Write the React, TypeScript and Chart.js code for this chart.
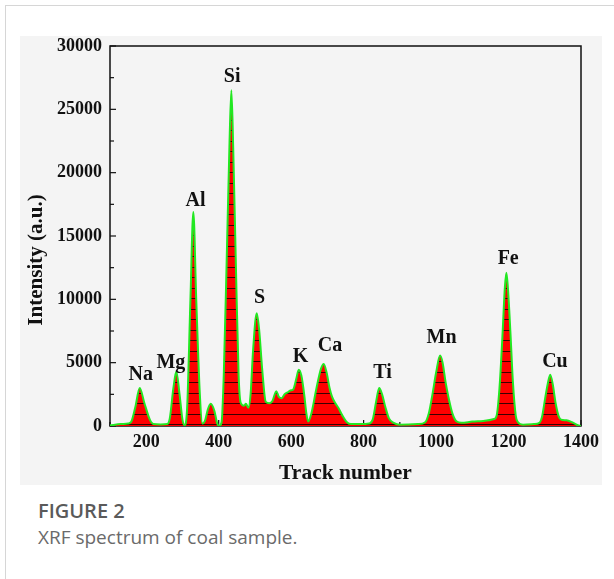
import React, { useEffect, useRef } from 'react';
import { Chart, registerables } from 'chart.js';

Chart.register(...registerables);

// Spectrum (track number -> intensity)
const trackNumbers = [
  100, 130, 150, 158, 170, 182, 195, 210, 220, 240, 258, 265, 275, 283, 292, 300, 306,
  313, 322, 330, 338, 348, 355, 362, 370, 378, 388, 396, 401, 408, 414, 422, 430, 435,
  440, 448, 455, 461, 470, 475, 482, 488, 495, 505, 512, 520, 530, 540, 548, 559, 566,
  574, 582, 590, 598, 606, 614, 621, 628, 636, 642, 647, 655, 670, 682, 690, 698, 706,
  713, 722, 731, 742, 754, 765, 790, 815, 825, 835, 843, 851, 860, 870, 883, 900, 950,
  970, 980, 990, 1000, 1011, 1018, 1026, 1034, 1045, 1057, 1070, 1100, 1130, 1160, 1167,
  1175, 1183, 1190, 1194, 1198, 1205, 1212, 1220, 1226, 1240, 1270, 1285, 1293, 1300,
  1308, 1315, 1322, 1330, 1338, 1345, 1360, 1375, 1388, 1400,
];
const intensities = [
  50, 150, 200, 300, 1500, 3000, 1800, 500, 150, 120, 150, 600, 3000, 4300, 2500, 500, 50,
  1500, 10000, 16900, 10000, 2500, 200, 400, 1300, 1750, 1200, 200, 0, 300, 4000, 13000, 22500, 26500,
  22000, 12000, 4000, 1800, 1600, 1750, 1450, 2500, 6000, 8900, 7500, 4500, 1900, 1800, 1950, 2750, 2300,
  2200, 2500, 2650, 2800, 2900, 3700, 4450, 4000, 2500, 1000, 350, 900, 3000, 4500, 4900, 4200, 3000,
  2300, 1800, 1400, 800, 300, 150, 150, 200, 500, 2000, 3000, 2500, 1500, 600, 250, 100, 150,
  300, 1000, 2500, 4200, 5560, 5000, 3500, 2300, 1000, 350, 250, 350, 400, 550, 800,
  3000, 7000, 11000, 12100, 11000, 7500, 3500, 800, 300, 100, 150, 250, 800, 2000,
  3300, 4050, 3300, 1800, 800, 500, 450, 300, 100, 0,
];

// Element annotations
const elementNames = ['Na', 'Mg', 'Al', 'Si', 'S', 'K', 'Ca', 'Ti', 'Mn', 'Fe', 'Cu'];
const elementTracks = [185, 268, 336, 437, 513, 626, 707, 852, 1015, 1199, 1328];
const elementLabelLevels = [4050, 5020, 17800, 27600, 10080, 5450, 6290, 4230, 6960, 13230, 5100];

const xTickValues = [200, 400, 600, 800, 1000, 1200, 1400];
const yTickValues = [0, 5000, 10000, 15000, 20000, 25000, 30000];

const yTitle = 'Intensity (a.u.)';
const xTitle = 'Track number';

const SERIF = "'Liberation Serif', 'Times New Roman', serif";

export default function App() {
  const ref = useRef<HTMLCanvasElement>(null);

  useEffect(() => {
    document.body.style.margin = '0';
    const canvas = ref.current!;
    const pc = document.createElement('canvas');
    pc.width = 4;
    pc.height = 21;
    const g = pc.getContext('2d')!;
    g.fillStyle = '#ff0000';
    g.fillRect(0, 0, 4, 21);
    g.fillStyle = '#3a0000';
    g.fillRect(0, 0, 4, 1);
    g.fillRect(0, 10, 4, 1);
    const pattern = canvas.getContext('2d')!.createPattern(pc, 'repeat')!;

    const framePlugin = {
      id: 'frameTicks',
      beforeDatasetsDraw(chart: any) {
        const { ctx, chartArea: a, scales } = chart;
        ctx.save();
        ctx.strokeStyle = '#111';
        ctx.lineWidth = 1.5;
        ctx.strokeRect(a.left, a.top, a.right - a.left, a.bottom - a.top);
        ctx.lineWidth = 1.2;
        for (let v = 0; v <= 30000; v += 2500) {
          const y = scales.y.getPixelForValue(v);
          const len = v % 5000 === 0 ? 6 : 4;
          ctx.beginPath();
          ctx.moveTo(a.left, y);
          ctx.lineTo(a.left + len, y);
          ctx.stroke();
        }
        for (let v = 100; v <= 1400; v += 100) {
          const x = scales.x.getPixelForValue(v);
          const len = v % 200 === 0 ? 6 : 4;
          ctx.beginPath();
          ctx.moveTo(x, a.bottom);
          ctx.lineTo(x, a.bottom - len);
          ctx.stroke();
        }
        ctx.restore();
      },
      afterDatasetsDraw(chart: any) {
        const { ctx, scales, chartArea: a } = chart;
        ctx.save();
        ctx.fillStyle = '#111';
        ctx.font = `bold 20px ${SERIF}`;
        ctx.textAlign = 'center';
        ctx.textBaseline = 'middle';
        elementNames.forEach((n, i) => {
          ctx.fillText(n, scales.x.getPixelForValue(elementTracks[i]), scales.y.getPixelForValue(elementLabelLevels[i]));
        });
        // y-axis title
        ctx.translate(a.left - 73, (a.top + a.bottom) / 2 + 24);
        ctx.rotate(-Math.PI / 2);
        ctx.font = `bold 21px ${SERIF}`;
        ctx.fillText(yTitle, 0, 0);
        ctx.restore();
      },
    };

    const chart = new Chart(canvas, {
      type: 'line',
      data: {
        datasets: [
          {
            data: trackNumbers.map((t, i) => ({ x: t, y: intensities[i] })),
            borderColor: '#22e822',
            borderWidth: 2,
            backgroundColor: pattern,
            fill: 'origin',
            pointRadius: 0,
            cubicInterpolationMode: 'monotone',
          },
        ],
      },
      options: {
        responsive: false,
        animation: false,
        devicePixelRatio: 1,
        layout: { padding: { top: 10, right: 21, left: 0, bottom: 0 } },
        plugins: { legend: { display: false }, tooltip: { enabled: false } },
        scales: {
          x: {
            type: 'linear',
            min: 100,
            max: 1400,
            grid: { display: false, drawTicks: false },
            border: { display: false },
            afterBuildTicks: (s: any) => {
              s.ticks = xTickValues.map((v) => ({ value: v }));
            },
            afterFit: (s: any) => {
              s.height = 59;
              s.paddingLeft = 0;
              s.paddingRight = 0;
            },
            ticks: {
              maxRotation: 0,
              autoSkip: false,
              padding: 6,
              color: '#111',
              font: { family: SERIF, size: 18, weight: 'bold' },
              callback: (v: any) => String(v),
            },
            title: {
              display: true,
              text: xTitle,
              color: '#111',
              padding: { top: 0, bottom: -1 },
              font: { family: SERIF, size: 21.5, weight: 'bold' },
            },
          },
          y: {
            min: 0,
            max: 30000,
            grid: { display: false, drawTicks: false },
            border: { display: false },
            afterBuildTicks: (s: any) => {
              s.ticks = yTickValues.map((v) => ({ value: v }));
            },
            afterFit: (s: any) => {
              s.width = 90;
              s.paddingTop = 0;
              s.paddingBottom = 0;
            },
            ticks: {
              padding: 8,
              color: '#111',
              font: { family: SERIF, size: 18, weight: 'bold' },
              callback: (v: any) => String(v),
            },
          },
        },
      },
      plugins: [framePlugin],
    } as any);

    return () => chart.destroy();
  }, []);

  return (
    <div style={{ position: 'relative', width: 614, height: 579, background: '#fff', overflow: 'hidden' }}>
      <div
        style={{
          position: 'absolute',
          left: 5,
          top: 5,
          width: 620,
          height: 600,
          borderTop: '1px solid #d6d6d6',
          borderLeft: '1px solid #d6d6d6',
        }}
      />
      <canvas
        ref={ref}
        width={582}
        height={449}
        style={{ position: 'absolute', left: 20, top: 36, width: 582, height: 449, background: '#f4f4f4' }}
      />
      <div
        style={{
          position: 'absolute',
          left: 38,
          top: 498,
          fontFamily: "'Open Sans', sans-serif",
          fontWeight: 600,
          fontSize: 20,
          color: '#5a5a5a',
          lineHeight: '26px',
        }}
      >
        FIGURE 2
      </div>
      <div
        style={{
          position: 'absolute',
          left: 38,
          top: 524,
          fontFamily: "'Open Sans', sans-serif",
          fontWeight: 400,
          fontSize: 19,
          color: '#6a6a6a',
          lineHeight: '26px',
        }}
      >
        XRF spectrum of coal sample.
      </div>
    </div>
  );
}
